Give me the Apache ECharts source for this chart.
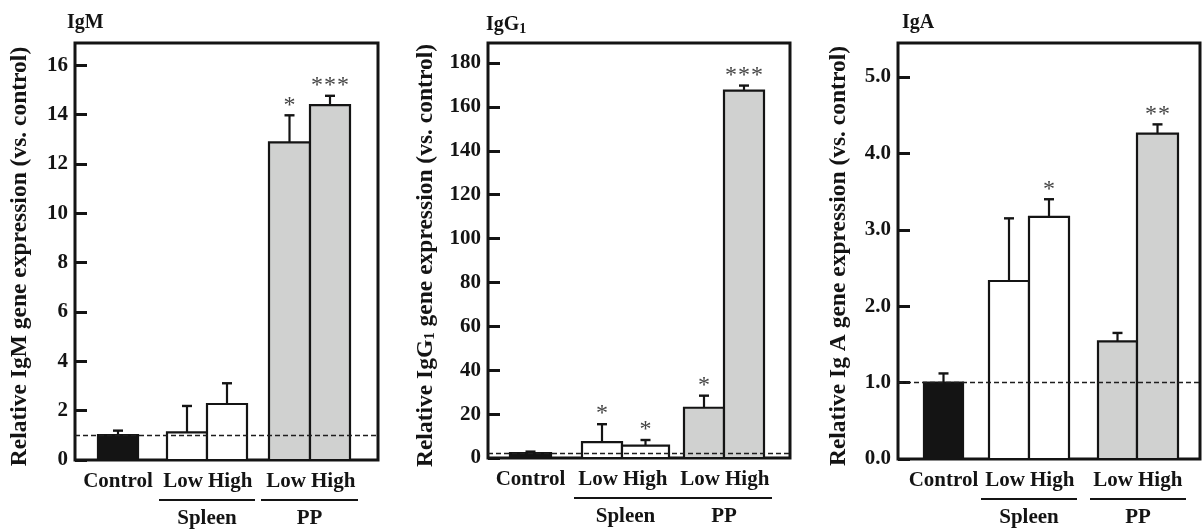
<!DOCTYPE html>
<html>
<head>
<meta charset="utf-8">
<script src="https://cdn.jsdelivr.net/npm/echarts@6/dist/echarts.min.js"></script>
<style>
  html, body { margin: 0; padding: 0; background: #ffffff; }
  #chart { width: 1202px; height: 530px; }
</style>
</head>
<body>
<div id="chart"></div>
<script>
// ---- data ----
const categories = ['Control', 'Low', 'High', 'Low', 'High'];
const groupNames = ['Spleen', 'PP'];
const groupMembers = [[1, 2], [3, 4]];

const igmMean = [1.01, 1.12, 2.27, 12.87, 14.38];
const igmErr  = [0.18, 1.07, 0.84, 1.10, 0.38];
const igmSig  = ['', '', '', '*', '***'];
const igmTicks = [0, 2, 4, 6, 8, 10, 12, 14, 16];

const igg1Mean = [2.2, 7.2, 5.6, 22.9, 167.4];
const igg1Err  = [0.7, 8.2, 2.6, 5.5, 2.3];
const igg1Sig  = ['', '*', '*', '*', '***'];
const igg1Ticks = [0, 20, 40, 60, 80, 100, 120, 140, 160, 180];

const igaMean = [1.00, 2.33, 3.17, 1.54, 4.26];
const igaErr  = [0.12, 0.82, 0.23, 0.11, 0.12];
const igaSig  = ['', '', '*', '', '**'];
const igaTicks = [0, 1, 2, 3, 4, 5];

// ---- layout & style ----
const FONT = "'Liberation Serif', 'Times New Roman', serif";
const INK = '#141414';
const barFills = ['#141414', '#ffffff', '#ffffff', '#d0d1d0', '#d0d1d0'];
const LABEL_FONT = 'bold 21px ' + FONT;

const panels = [
  {
    title: 'IgM',
    name: 'Relative IgM gene expression (vs. control)',
    mean: igmMean, err: igmErr, sig: igmSig, ticks: igmTicks, yMax: 16.9, fmt: v => String(v),
    grid: { left: 75, top: 43, width: 303, height: 417 },
    xMax: 7.575, nameGap: 43, titleLeft: 62,
    slots: [[0.575, 1.575], [2.3, 3.3], [3.3, 4.3], [4.85, 5.875], [5.875, 6.875]]
  },
  {
    title: '{t|IgG}{s|1}',
    name: 'Relative IgG{s|1} gene expression (vs. control)',
    mean: igg1Mean, err: igg1Err, sig: igg1Sig, ticks: igg1Ticks, yMax: 189.1, fmt: v => String(v),
    grid: { left: 488, top: 43, width: 302, height: 415 },
    xMax: 7.55, nameGap: 50, titleLeft: 481,
    slots: [[0.55, 1.575], [2.35, 3.35], [3.35, 4.525], [4.9, 5.9], [5.9, 6.9]]
  },
  {
    title: 'IgA',
    name: 'Relative Ig A gene expression (vs. control)',
    mean: igaMean, err: igaErr, sig: igaSig, ticks: igaTicks, yMax: 5.445, fmt: v => v.toFixed(1),
    grid: { left: 898, top: 43, width: 302, height: 416 },
    xMax: 7.55, nameGap: 47, titleLeft: 897,
    slots: [[0.65, 1.625], [2.275, 3.275], [3.275, 4.275], [5.0, 5.975], [5.975, 7.0]]
  }
];

const boldText = (size) => ({ fontFamily: FONT, fontWeight: 'bold', fontSize: size, color: INK });

const option = {
  animation: false,
  backgroundColor: '#ffffff',
  title: [],
  grid: [],
  xAxis: [],
  yAxis: [],
  series: []
};

panels.forEach((p, k) => {
  option.title.push({
    text: p.title,
    left: p.titleLeft,
    top: 8,
    textStyle: Object.assign(boldText(20), {
      rich: {
        t: boldText(20),
        s: Object.assign(boldText(14), { padding: [9, 0, 0, 0] })
      }
    })
  });

  option.grid.push(Object.assign({
    show: true, borderColor: INK, borderWidth: 3, backgroundColor: 'transparent', containLabel: false
  }, p.grid));

  option.xAxis.push({
    gridIndex: k, type: 'value', min: 0, max: p.xMax, show: false
  });

  option.yAxis.push({
    gridIndex: k, type: 'value', min: 0, max: p.yMax,
    axisLine: { show: false },
    splitLine: { show: false },
    axisTick: {
      show: true, inside: true, length: 12, customValues: p.ticks,
      lineStyle: { color: INK, width: 3 }
    },
    axisLabel: Object.assign(boldText(21), {
      margin: 7, customValues: p.ticks, formatter: p.fmt
    }),
    name: p.name,
    nameLocation: 'middle',
    nameGap: p.nameGap,
    nameTextStyle: Object.assign(boldText(23.5), {
      padding: [0, 10, 0, 0],
      rich: {
        s: Object.assign(boldText(15), { verticalAlign: 'bottom', lineHeight: 15 })
      }
    })
  });

  const slots = p.slots;

  // bars, error bars, significance marks and category labels
  option.series.push({
    type: 'custom',
    xAxisIndex: k, yAxisIndex: k,
    clip: false,
    encode: { x: 0, y: 1 },
    data: p.mean.map((m, i) => [i, m, p.err[i]]),
    renderItem: (params, api) => {
      const i = params.dataIndex;
      const x0 = slots[i][0], x1 = slots[i][1], xc = (x0 + x1) / 2;
      const v = api.value(1), e = api.value(2);
      const bl = api.coord([x0, 0]);
      const tr = api.coord([x1, v]);
      const top = api.coord([xc, v + e]);
      const cx = top[0];

      // a Low/High pair reads as one phrase centred on the shared edge
      let lx = cx, align = 'center';
      if (categories[i] === 'Low') { lx = tr[0] - 4; align = 'right'; }
      if (categories[i] === 'High') { lx = bl[0] + 1; align = 'left'; }

      const children = [
        { type: 'line', shape: { x1: cx, y1: tr[1], x2: cx, y2: top[1] },
          style: { stroke: INK, lineWidth: 2.2 } },
        { type: 'line', shape: { x1: cx - 5, y1: top[1], x2: cx + 5, y2: top[1] },
          style: { stroke: INK, lineWidth: 2.4 } },
        { type: 'rect', shape: { x: bl[0], y: tr[1], width: tr[0] - bl[0], height: bl[1] - tr[1] },
          style: { fill: barFills[i], stroke: INK, lineWidth: 2.2 } },
        { type: 'text', x: lx, y: bl[1] + 22,
          style: { text: categories[i], align: align, verticalAlign: 'middle',
                   font: LABEL_FONT, fill: INK } }
      ];
      const marks = p.sig[i];
      const pitch = 13;
      for (let j = 0; j < marks.length; j++) {
        children.push({
          type: 'text',
          x: cx + (j - (marks.length - 1) / 2) * pitch,
          y: top[1] - 10,
          style: { text: '*', align: 'center', verticalAlign: 'middle',
                   font: '24px ' + FONT, fill: '#444444' }
        });
      }
      return { type: 'group', children };
    },
    markLine: {
      silent: true,
      symbol: 'none',
      label: { show: false },
      lineStyle: { type: [5, 3], width: 1.4, color: '#1e1e1e' },
      data: [{ yAxis: p.mean[0] }]
    },
    z: 2
  });

  // group brackets (Spleen / PP)
  option.series.push({
    type: 'custom',
    xAxisIndex: k, yAxisIndex: k,
    clip: false,
    encode: { x: 0, y: 1 },
    data: groupNames.map((g, gi) => [gi, 0]),
    renderItem: (params, api) => {
      const gi = params.dataIndex;
      const mem = groupMembers[gi];
      const a = api.coord([slots[mem[0]][0] - 0.2, 0]);
      const b = api.coord([slots[mem[mem.length - 1]][1] + 0.2, 0]);
      const base = a[1];
      return {
        type: 'group',
        children: [
          { type: 'line', shape: { x1: a[0], y1: base + 40, x2: b[0], y2: base + 40 },
            style: { stroke: INK, lineWidth: 2 } },
          { type: 'text', x: (a[0] + b[0]) / 2, y: base + 59,
            style: { text: groupNames[gi], align: 'center', verticalAlign: 'middle',
                     font: LABEL_FONT, fill: INK } }
        ]
      };
    },
    z: 3
  });
});

const chart = echarts.init(document.getElementById('chart'), null, { renderer: 'canvas' });
chart.setOption(option);
</script>
</body>
</html>
